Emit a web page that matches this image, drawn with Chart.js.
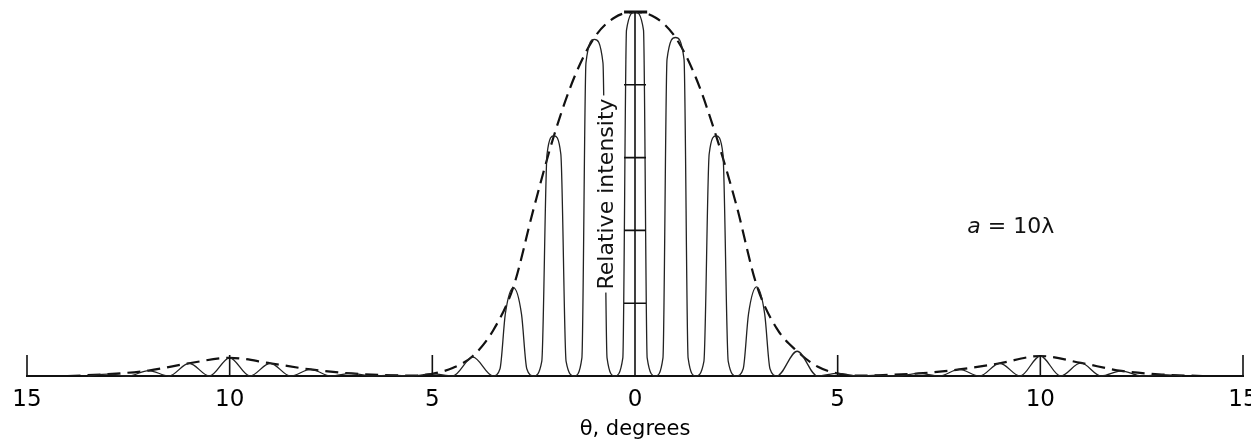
<!DOCTYPE html>
<html lang="en">
<head>
  <meta charset="UTF-8">
  <title>Relative intensity, a = 10λ</title>
  <script src="https://cdn.jsdelivr.net/npm/chart.js"></script>
  <style>
    html, body { margin: 0; padding: 0; background: #fff; }
    #wrap { width: 1251px; height: 439px; }
  </style>
</head>
<body>

<div id="wrap"><canvas id="grafik" width="1251" height="439"></canvas></div>

<script>
  // dashed envelope (theta in degrees, relative intensity)
  const envAngles = [-14, -13, -12, -11, -10, -9, -8, -7, -6, -5.5, -5, -4.5, -4, -3.5, -3, -2.5, -2, -1.5, -1, -0.5, 0,
                     0.5, 1, 1.5, 2, 2.5, 3, 3.5, 4, 4.5, 5, 5.5, 6, 7, 8, 9, 10, 11, 12, 13, 14];
  const envLevels = [0, 0.005, 0.015, 0.035, 0.05, 0.035, 0.018, 0.007, 0.002, 0.001, 0.006, 0.022, 0.055, 0.125, 0.245, 0.46, 0.66, 0.82, 0.93, 0.985, 1,
                     0.985, 0.93, 0.82, 0.66, 0.47, 0.25, 0.13, 0.068, 0.026, 0.007, 0.001, 0.002, 0.007, 0.018, 0.035, 0.055, 0.036, 0.014, 0.004, 0];

  // fringe maxima
  const peakAngles = [-13, -12, -11, -10, -9, -8, -7, -6, -5, -4, -3, -2, -1, 0, 1, 2, 3, 4, 5, 6, 7, 8, 9, 10, 11, 12, 13];
  const peakLevels = [0.005, 0.015, 0.035, 0.05, 0.035, 0.018, 0.007, 0.002, 0.006, 0.052, 0.243, 0.66, 0.925, 1, 0.93, 0.66, 0.245, 0.068, 0.007, 0.002, 0.007, 0.018, 0.035, 0.055, 0.036, 0.014, 0.004];

  // fringe minima
  const troughAngles = [-13.5, -12.5, -11.5, -10.5, -9.5, -8.5, -7.5, -6.5, -5.5, -4.5, -3.5, -2.5, -1.5, -0.5,
                        0.5, 1.5, 2.5, 3.5, 4.5, 5.5, 6.5, 7.5, 8.5, 9.5, 10.5, 11.5, 12.5, 13.5];
  const troughLevels = [0, 0, 0, 0, 0, 0, 0, 0, 0, 0, 0, 0, 0, 0,
                        0, 0, 0, 0, 0, 0, 0, 0, 0, 0, 0, 0, 0, 0];

  // where the tall fringes bend into their near-vertical sides (top and foot of each side)
  const shoulderAngles = [-3.2, -2.8, -2.17, -1.83, -1.21, -0.79, -0.21, 0.21, 0.79, 1.21, 1.83, 2.17, 2.8, 3.2];
  const shoulderLevels = [0.17, 0.17, 0.61, 0.61, 0.86, 0.86, 0.95, 0.95, 0.87, 0.87, 0.61, 0.61, 0.17, 0.17];
  const footAngles = [-3.33, -2.67, -2.3, -1.7, -1.31, -0.69, -0.3, 0.3, 0.69, 1.31, 1.7, 2.3, 2.67, 3.33];
  const footLevels = [0.02, 0.02, 0.04, 0.04, 0.05, 0.05, 0.05, 0.05, 0.05, 0.05, 0.04, 0.04, 0.02, 0.02];

  // flat cap on top of the central fringe
  const capAngles = [-0.27, 0.3];
  const capLevels = [1, 1];

  const angleTicks = [-15, -10, -5, 0, 5, 10, 15];
  const angleMarks = [-15, -10, -5, 5, 10, 15];
  const intensityTicks = [0.2, 0.4, 0.6, 0.8];

  const FONT = "'DejaVu Sans', sans-serif";

  function pts(xs, ys) {
    return xs.map((v, i) => ({ x: v, y: ys[i] }));
  }

  const fringePts = pts(peakAngles, peakLevels)
    .concat(pts(troughAngles, troughLevels))
    .concat(pts(shoulderAngles, shoulderLevels))
    .concat(pts(footAngles, footLevels))
    .sort((a, b) => a.x - b.x);

  // axis at theta = 0 with crossing ticks, short ticks on the baseline, text labels
  const gambarSumbu = {
    id: 'gambarSumbu',
    afterDatasetsDraw(chart) {
      const { ctx, scales: { x, y } } = chart;
      const x0 = x.getPixelForValue(0);
      const yBase = y.getPixelForValue(0);
      ctx.save();
      ctx.strokeStyle = '#111';
      ctx.lineWidth = 1.6;
      ctx.beginPath();
      ctx.moveTo(x0, yBase);
      ctx.lineTo(x0, y.getPixelForValue(1));
      intensityTicks.forEach(v => {
        const py = y.getPixelForValue(v);
        ctx.moveTo(x0 - 11, py);
        ctx.lineTo(x0 + 11, py);
      });
      angleMarks.forEach(a => {
        const px = x.getPixelForValue(a);
        ctx.moveTo(px, yBase);
        ctx.lineTo(px, yBase - 21);
      });
      ctx.stroke();

      // Relative intensity, rotated, on a white patch
      ctx.font = '22px ' + FONT;
      const teks = 'Relative intensity';
      const w = ctx.measureText(teks).width;
      ctx.translate(x.getPixelForValue(-0.68), y.getPixelForValue(0.5));
      ctx.rotate(-Math.PI / 2);
      ctx.fillStyle = '#fff';
      ctx.fillRect(-w / 2 - 3, -12, w + 6, 25);
      ctx.fillStyle = '#111';
      ctx.textAlign = 'center';
      ctx.textBaseline = 'middle';
      ctx.fillText(teks, 0, 0);
      ctx.restore();

      // a = 10λ
      ctx.save();
      ctx.fillStyle = '#111';
      ctx.textBaseline = 'alphabetic';
      const lx = x.getPixelForValue(8.2);
      const ly = y.getPixelForValue(0.393);
      ctx.font = 'italic 22px ' + FONT;
      ctx.fillText('a', lx, ly);
      const aw = ctx.measureText('a').width;
      ctx.font = '22px ' + FONT;
      ctx.fillText(' = 10λ', lx + aw, ly);
      ctx.restore();
    }
  };

  new Chart(document.getElementById('grafik'), {
    type: 'line',
    data: {
      datasets: [
        {
          label: 'Fringes',
          data: fringePts,
          borderColor: '#222',
          borderWidth: 1.3,
          pointRadius: 0,
          cubicInterpolationMode: 'monotone',
          fill: false,
          clip: false
        },
        {
          label: 'Envelope',
          data: pts(envAngles, envLevels),
          borderColor: '#111',
          borderWidth: 2.2,
          borderDash: [13, 7],
          pointRadius: 0,
          cubicInterpolationMode: 'monotone',
          fill: false,
          clip: false
        },
        {
          label: 'Cap',
          data: pts(capAngles, capLevels),
          borderColor: '#111',
          borderWidth: 3,
          pointRadius: 0,
          fill: false,
          clip: false
        }
      ]
    },
    options: {
      responsive: false,
      animation: false,
      layout: { padding: { left: 27, right: 8, top: 12, bottom: 0 } },
      plugins: { legend: { display: false }, tooltip: { enabled: false } },
      scales: {
        x: {
          type: 'linear',
          min: -15,
          max: 15,
          afterBuildTicks: (s) => { s.ticks = angleTicks.map(v => ({ value: v })); },
          afterFit: (s) => { s.height = 63; s.paddingLeft = 0; s.paddingRight = 0; },
          ticks: {
            autoSkip: false,
            maxRotation: 0,
            padding: 10,
            color: '#000',
            font: { family: FONT, size: 23 },
            callback: (v) => String(Math.abs(v))
          },
          grid: { display: false, drawTicks: false },
          border: { display: true, color: '#111', width: 2 },
          title: {
            display: true,
            text: 'θ, degrees',
            color: '#000',
            font: { family: FONT, size: 21 },
            padding: { top: 0, bottom: -3 }
          }
        },
        y: {
          display: false,
          min: 0,
          max: 1
        }
      }
    },
    plugins: [gambarSumbu]
  });
</script>

</body>
</html>
